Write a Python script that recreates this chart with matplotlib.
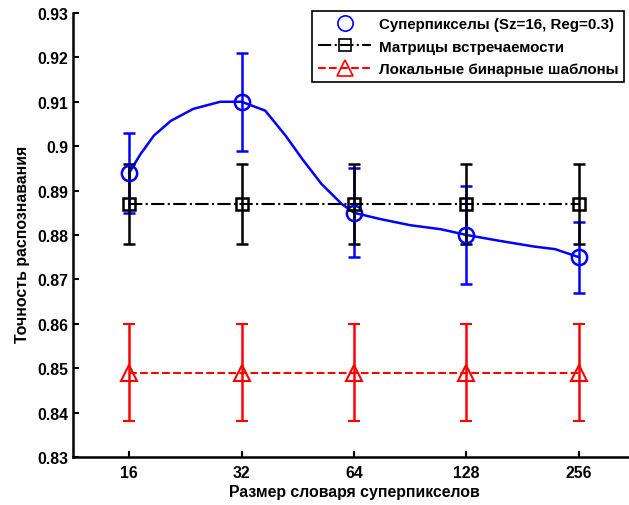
import numpy as np
import matplotlib
matplotlib.use("Agg")
import matplotlib.pyplot as plt
from matplotlib.lines import Line2D

# размеры словаря суперпикселов
sizes = ['16', '32', '64', '128', '256']

# суперпикселы (Sz=16, Reg=0.3)
sp_mean = [0.894, 0.910, 0.885, 0.880, 0.875]
sp_err = [0.009, 0.011, 0.010, 0.011, 0.008]

# сглаженная кривая суперпикселов (точки)
sp_curve_pos = [1.0, 1.10, 1.22, 1.37, 1.57, 1.81, 2.0, 2.21, 2.39, 2.54, 2.71,
                2.89, 3.0, 3.23, 3.50, 3.77, 4.0, 4.29, 4.60, 4.79, 5.0]
sp_curve_val = [0.894, 0.8982, 0.9024, 0.9057, 0.9084, 0.9100, 0.910, 0.9080,
                0.9024, 0.8971, 0.8915, 0.8870, 0.885, 0.8836, 0.8822, 0.8813,
                0.880, 0.8787, 0.8774, 0.8768, 0.875]

# матрицы встречаемости
glcm_mean = [0.887, 0.887, 0.887, 0.887, 0.887]
glcm_err = [0.009, 0.009, 0.009, 0.009, 0.009]

# локальные бинарные шаблоны
lbp_mean = [0.849, 0.849, 0.849, 0.849, 0.849]
lbp_err = [0.011, 0.011, 0.011, 0.011, 0.011]

labels = ['Суперпикселы (Sz=16, Reg=0.3)', 'Матрицы встречаемости',
          'Локальные бинарные шаблоны']

plt.rcParams['font.family'] = ['Liberation Sans', 'DejaVu Sans']
plt.rcParams['font.weight'] = 'bold'
plt.rcParams['axes.labelweight'] = 'bold'
plt.rcParams['font.size'] = 11.4

x = np.arange(1, len(sizes) + 1)

fig = plt.figure(figsize=(6.29, 5.06), dpi=100)
ax = fig.add_axes([0.1161, 0.0949, 0.8935, 0.8775])

ax.plot(sp_curve_pos, sp_curve_val, '-', color='blue', lw=1.8)
ax.errorbar(x, sp_mean, yerr=sp_err, fmt='o', color='blue', mfc='none',
            ms=11, mew=1.8, elinewidth=1.8, capsize=4, capthick=1.8)
ax.errorbar(x, glcm_mean, yerr=glcm_err, fmt='s-.', color='black', mfc='none',
            ms=9, mew=1.8, lw=1.5, elinewidth=1.8, capsize=4, capthick=1.8)
ax.errorbar(x, lbp_mean, yerr=lbp_err, fmt='^--', color='red', mfc='none',
            ms=11, mew=1.5, lw=1.5, elinewidth=1.8, capsize=4, capthick=1.8)

ax.set_xlim(0.5, 5.5)
ax.set_ylim(0.83, 0.93)
ax.set_xticks(x)
ax.set_xticklabels(sizes)
yt = np.arange(0.83, 0.9301, 0.01)
ax.set_yticks(yt)
ax.set_yticklabels(['%g' % round(v, 2) for v in yt])
ax.tick_params(direction='in', length=4, width=1.5)
ax.tick_params(axis='x', pad=6)
ax.tick_params(axis='y', pad=3.5)

for s in ['top', 'right']:
    ax.spines[s].set_visible(False)
for s in ['left', 'bottom']:
    ax.spines[s].set_linewidth(1.8)

ax.set_xlabel('Размер словаря суперпикселов', labelpad=3)
ax.set_ylabel('Точность распознавания')
ax.yaxis.set_label_coords(-0.076, 0.48)

# элементы легенды без планок погрешностей
handles = [
    Line2D([], [], ls='none', marker='o', color='blue', mfc='none', ms=11, mew=1.2),
    Line2D([], [], ls='-.', marker='s', color='black', mfc='none', ms=9, mew=1.2, lw=1.5),
    Line2D([], [], ls='--', marker='^', color='red', mfc='none', ms=11, mew=1.2, lw=1.5),
]
leg = ax.legend(handles, labels, loc='upper left', fontsize=10.9,
                bbox_to_anchor=(0.496, 0.976), bbox_transform=fig.transFigure,
                fancybox=False, framealpha=1, edgecolor='black',
                handlelength=3.5, handletextpad=0.5, borderpad=0.4,
                labelspacing=0.55, borderaxespad=0)
leg.get_frame().set_linewidth(1.2)

fig.savefig('out.png', dpi=100)
